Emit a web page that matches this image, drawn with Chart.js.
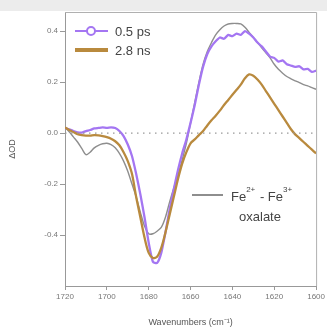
<!DOCTYPE html>
<html>
<head>
  <script src="https://cdn.jsdelivr.net/npm/chart.js"></script>
  <title>Transient IR spectra</title>
  <style>
    html, body { margin: 0; padding: 0; background: #fff; }
    #wrap { width: 327px; height: 328px; }
  </style>
</head>
<body>
  <div id="wrap"><canvas id="chart"></canvas></div>

  <script>
    // wavenumbers (cm-1), shared by all three traces
    const wavenumbers = [1720, 1718, 1716, 1714, 1712, 1710, 1708, 1706, 1704, 1702,
      1700, 1698, 1696, 1694, 1692, 1690, 1688, 1686, 1684, 1682,
      1680, 1678, 1676, 1674, 1672, 1670, 1668, 1666, 1664, 1662,
      1660, 1658, 1656, 1654, 1652, 1650, 1648, 1646, 1644, 1642,
      1640, 1638, 1636, 1634, 1632, 1630, 1628, 1626, 1624, 1622,
      1620, 1618, 1616, 1614, 1612, 1610, 1608, 1606, 1604, 1602, 1600];

    // 0.5 ps
    const ps05 = [0.020, 0.015, 0.008, 0.003, 0.002, 0.008, 0.012, 0.018, 0.020, 0.022,
      0.020, 0.022, 0.020, 0.008, -0.012, -0.045, -0.090, -0.160, -0.240, -0.330,
      -0.430, -0.505, -0.510, -0.470, -0.390, -0.300, -0.220, -0.145, -0.080, -0.025,
      0.040, 0.110, 0.190, 0.260, 0.310, 0.340, 0.360, 0.375, 0.370, 0.385,
      0.380, 0.390, 0.385, 0.400, 0.390, 0.375, 0.355, 0.340, 0.320, 0.300,
      0.295, 0.280, 0.285, 0.270, 0.265, 0.260, 0.262, 0.250, 0.252, 0.240, 0.245];

    // 2.8 ns
    const ns28 = [0.022, 0.012, 0.004, -0.004, -0.008, -0.010, -0.010, -0.008, -0.009, -0.012,
      -0.016, -0.022, -0.032, -0.048, -0.075, -0.110, -0.160, -0.250, -0.330, -0.410,
      -0.470, -0.490, -0.485, -0.450, -0.390, -0.320, -0.250, -0.180, -0.120, -0.075,
      -0.040, -0.025, -0.008, 0.008, 0.030, 0.050, 0.068, 0.088, 0.110, 0.130,
      0.150, 0.170, 0.190, 0.215, 0.230, 0.225, 0.210, 0.190, 0.165, 0.140,
      0.115, 0.090, 0.065, 0.040, 0.015, -0.005, -0.020, -0.035, -0.050, -0.065, -0.080];

    // Fe2+ - Fe3+ oxalate difference
    const feDiff = [0.022, 0.005, -0.015, -0.035, -0.060, -0.085, -0.075, -0.058, -0.048, -0.042,
      -0.040, -0.045, -0.058, -0.080, -0.110, -0.150, -0.200, -0.250, -0.310, -0.365,
      -0.395, -0.395, -0.385, -0.370, -0.330, -0.270, -0.215, -0.165, -0.105, -0.040,
      0.040, 0.120, 0.200, 0.270, 0.320, 0.355, 0.385, 0.405, 0.420, 0.428,
      0.430, 0.430, 0.428, 0.415, 0.395, 0.375, 0.355, 0.335, 0.315, 0.295,
      0.270, 0.250, 0.235, 0.222, 0.213, 0.205, 0.198, 0.190, 0.185, 0.178, 0.172];

    const xTicks = [1720, 1700, 1680, 1660, 1640, 1620, 1600];
    const yTicks = [-0.4, -0.2, 0.0, 0.2, 0.4];

    const purple = '#a476f2';
    const brown = '#b98a3e';
    const grey = '#8e8e8e';

    const pts = arr => arr.map((v, i) => ({ x: wavenumbers[i], y: v }));

    // frame, legends, grey top band
    const decor = {
      id: 'decor',
      beforeDraw(chart) {
        const c = chart.ctx;
        c.save();
        c.fillStyle = '#ececec';
        c.fillRect(0, 0, chart.width, 11);
        c.restore();
      },
      afterDraw(chart) {
        const c = chart.ctx;
        const a = chart.chartArea;
        c.save();
        c.strokeStyle = '#b0b0b0';
        c.lineWidth = 1;
        c.beginPath();
        c.moveTo(a.left, a.top + 0.5);
        c.lineTo(a.right + 0.5, a.top + 0.5);
        c.lineTo(a.right + 0.5, a.bottom);
        c.stroke();

        c.font = '13px "Liberation Sans", Arial, sans-serif';
        c.textBaseline = 'middle';
        c.fillStyle = '#444';

        // 0.5 ps
        c.strokeStyle = purple;
        c.lineWidth = 2;
        c.beginPath();
        c.moveTo(75, 31); c.lineTo(108, 31);
        c.stroke();
        c.beginPath();
        c.arc(91, 31, 4, 0, Math.PI * 2);
        c.fillStyle = '#fff';
        c.fill();
        c.stroke();
        c.fillStyle = '#444';
        c.fillText('0.5 ps', 115, 32);

        // 2.8 ns
        c.strokeStyle = brown;
        c.lineWidth = 4;
        c.beginPath();
        c.moveTo(75, 50); c.lineTo(108, 50);
        c.stroke();
        c.fillText('2.8 ns', 115, 51);

        // Fe2+ - Fe3+ oxalate
        c.strokeStyle = grey;
        c.lineWidth = 2;
        c.beginPath();
        c.moveTo(192, 195); c.lineTo(223, 195);
        c.stroke();
        let x = 231;
        const y = 197;
        const sup = '8px "Liberation Sans", Arial, sans-serif';
        const big = '13px "Liberation Sans", Arial, sans-serif';
        c.font = big; c.fillText('Fe', x, y); x += c.measureText('Fe').width;
        c.font = sup; c.fillText('2+', x, y - 7); x += c.measureText('2+').width + 1;
        c.font = big; c.fillText(' - Fe', x, y); x += c.measureText(' - Fe').width;
        c.font = sup; c.fillText('3+', x, y - 7);
        c.font = big;
        c.textAlign = 'center';
        c.fillText('oxalate', 260, 217);
        c.restore();
      }
    };

    new Chart(document.getElementById('chart'), {
      type: 'line',
      data: {
        datasets: [
          {
            label: 'zero',
            data: [{ x: 1720, y: 0 }, { x: 1600, y: 0 }],
            borderColor: '#999',
            borderWidth: 1.3,
            borderDash: [1.5, 4.5],
            pointRadius: 0
          },
          {
            label: '2.8 ns',
            data: pts(ns28),
            borderColor: brown,
            borderWidth: 2.3,
            pointRadius: 0,
            tension: 0.3
          },
          {
            label: '0.5 ps',
            data: pts(ps05),
            borderColor: purple,
            borderWidth: 2.3,
            pointRadius: 0,
            tension: 0.2
          },
          {
            label: 'Fe2+ - Fe3+ oxalate',
            data: pts(feDiff),
            borderColor: grey,
            borderWidth: 1.4,
            pointRadius: 0,
            tension: 0.3
          }
        ]
      },
      options: {
        responsive: true,
        maintainAspectRatio: false,
        animation: false,
        layout: { padding: { top: 12, right: 9, left: 0, bottom: 0 } },
        plugins: {
          legend: { display: false },
          tooltip: { enabled: false }
        },
        scales: {
          x: {
            type: 'linear',
            reverse: true,
            min: 1600,
            max: 1720,
            afterBuildTicks: axis => { axis.ticks = xTicks.map(v => ({ value: v })); },
            afterFit: axis => { axis.height = 42; },
            grid: { drawOnChartArea: false, tickLength: 4, color: '#999' },
            border: { color: '#999' },
            ticks: {
              color: '#777',
              font: { size: 8, family: '"Liberation Sans", Arial' },
              padding: 2,
              maxRotation: 0,
              callback: v => v
            },
            title: {
              display: true,
              text: 'Wavenumbers (cm\u207B\u00B9)',
              color: '#555',
              font: { size: 9, family: '"Liberation Sans", Arial' },
              padding: { top: 14, bottom: 0 }
            }
          },
          y: {
            min: -0.6,
            max: 0.475,
            afterBuildTicks: axis => { axis.ticks = yTicks.map(v => ({ value: v })); },
            afterFit: axis => { axis.width = 65; },
            grid: { drawOnChartArea: false, tickLength: 5, color: '#999' },
            border: { color: '#999' },
            ticks: {
              color: '#777',
              font: { size: 8, family: '"Liberation Sans", Arial' },
              padding: 2,
              callback: v => v.toFixed(1)
            },
            title: {
              display: true,
              text: '\u0394OD',
              color: '#555',
              font: { size: 9, family: '"Liberation Sans", Arial' },
              padding: { top: 7, bottom: 0 }
            }
          }
        }
      },
      plugins: [decor]
    });
  </script>
</body>
</html>
